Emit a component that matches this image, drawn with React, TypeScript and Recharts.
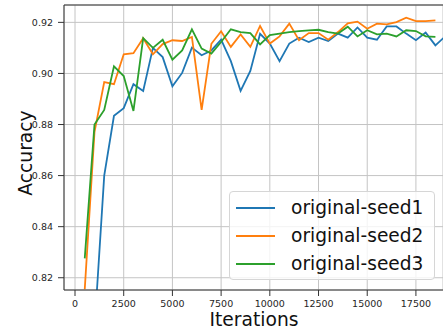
import { LineChart, Line, XAxis, YAxis, CartesianGrid, Legend, ReferenceLine } from "recharts";

const iterations = [
  500, 1000, 1500, 2000, 2500, 3000, 3500, 4000, 4500, 5000,
  5500, 6000, 6500, 7000, 7500, 8000, 8500, 9000, 9500, 10000,
  10500, 11000, 11500, 12000, 12500, 13000, 13500, 14000, 14500, 15000,
  15500, 16000, 16500, 17000, 17500, 18000, 18500, 19000,
];

const seed1 = [
  null, 0.8, 0.86, 0.8834, 0.8864, 0.8958, 0.8931, 0.91, 0.9064, 0.895,
  0.9002, 0.9101, 0.9071, 0.909, 0.9132, 0.9048, 0.8932, 0.901, 0.9155, 0.9117,
  0.9048, 0.9117, 0.914, 0.9123, 0.914, 0.9127, 0.9156, 0.914, 0.918, 0.914,
  0.9132, 0.9184, 0.9184, 0.9156, 0.913, 0.916, 0.911, 0.9145,
];

const seed2 = [
  0.8155, 0.877, 0.8966, 0.8958, 0.9075, 0.9079, 0.9138, 0.9075, 0.9115, 0.913,
  0.9127, 0.9143, 0.8857, 0.9116, 0.9165, 0.9104, 0.9153, 0.9104, 0.9186, 0.9117,
  0.9145, 0.9195, 0.913, 0.9158, 0.9158, 0.9132, 0.9162, 0.9196, 0.9203, 0.9175,
  0.9195, 0.9192, 0.9201, 0.9218, 0.9205, 0.9205, 0.9208, null,
];

const seed3 = [
  0.8276, 0.88, 0.8857, 0.9028, 0.899, 0.8853, 0.9138, 0.91, 0.9132, 0.9054,
  0.909, 0.9173, 0.9097, 0.9078, 0.9123, 0.9173, 0.9162, 0.9158, 0.9114, 0.915,
  0.9156, 0.9162, 0.9166, 0.9169, 0.9171, 0.9162, 0.9156, 0.9183, 0.9145, 0.9169,
  0.9153, 0.9156, 0.9145, 0.9169, 0.9166, 0.9145, 0.9143, null,
];

const xTicks = [0, 2500, 5000, 7500, 10000, 12500, 15000, 17500];
const yTicks = [0.82, 0.84, 0.86, 0.88, 0.9, 0.92];

const series = [
  { key: "seed1", name: "original-seed1", color: "#1f77b4" },
  { key: "seed2", name: "original-seed2", color: "#ff7f0e" },
  { key: "seed3", name: "original-seed3", color: "#2ca02c" },
];

const data = iterations.map((iter, i) => ({
  iter,
  seed1: seed1[i],
  seed2: seed2[i],
  seed3: seed3[i],
}));

const font = "'DejaVu Sans', sans-serif";
const Y_MIN = 0.8152;
const Y_MAX = 0.9268;

const renderLegend = () => (
  <div
    style={{
      width: 206,
      height: 89,
      boxSizing: "border-box",
      border: "1px solid #d6d6d6",
      borderRadius: 4,
      background: "rgba(255,255,255,0.8)",
      fontFamily: font,
      fontSize: 18.6,
      color: "#111",
      paddingTop: 2,
    }}
  >
    {series.map((s) => (
      <div key={s.key} style={{ display: "flex", alignItems: "center", height: 28 }}>
        <div style={{ width: 39, height: 2, background: s.color, marginLeft: 6, marginRight: 16 }} />
        <span style={{ lineHeight: "28px" }}>{s.name}</span>
      </div>
    ))}
  </div>
);

export default function App() {
  return (
    <div style={{ width: 443, height: 334, background: "#fff" }}>
      <style>{"body{margin:0}"}</style>
      <LineChart
        width={443}
        height={334}
        data={data}
        margin={{ top: 5, right: 0, bottom: 0, left: 0 }}
      >
        <CartesianGrid stroke="#c4c4c4" strokeWidth={1} />
        <XAxis
          dataKey="iter"
          type="number"
          domain={[-565, 18890]}
          allowDataOverflow
          ticks={xTicks}
          interval={0}
          height={44}
          tickSize={6}
          tickMargin={4}
          stroke="#333"
          tick={{ fill: "#262626", fontSize: 9.5, fontFamily: font }}
          label={{
            content: () => (
              <text x={254} y={326} textAnchor="middle" fontFamily={font} fontSize={18.7} fill="#111">
                Iterations
              </text>
            ),
          }}
        />
        <YAxis
          type="number"
          domain={[Y_MIN, Y_MAX]}
          allowDataOverflow
          ticks={yTicks}
          interval={0}
          width={64}
          tickSize={6}
          tickMargin={5}
          stroke="#333"
          tickFormatter={(v: number) => v.toFixed(2)}
          tick={{ fill: "#262626", fontSize: 9.5, fontFamily: font }}
          label={{
            content: () => (
              <text
                x={31.5}
                y={153}
                textAnchor="middle"
                transform="rotate(-90, 31.5, 153)"
                fontFamily={font}
                fontSize={18.7}
                fill="#111"
              >
                Accuracy
              </text>
            ),
          }}
        />
        <ReferenceLine y={Y_MAX} stroke="#333" strokeWidth={1} />
        {series.map((s) => (
          <Line
            key={s.key}
            dataKey={s.key}
            name={s.name}
            stroke={s.color}
            strokeWidth={1.8}
            dot={false}
            activeDot={false}
            isAnimationActive={false}
          />
        ))}
        <Legend
          layout="horizontal"
          align="center"
          verticalAlign="middle"
          content={renderLegend}
          wrapperStyle={{ left: 229, top: 191, width: 206, height: 89 }}
        />
      </LineChart>
    </div>
  );
}
